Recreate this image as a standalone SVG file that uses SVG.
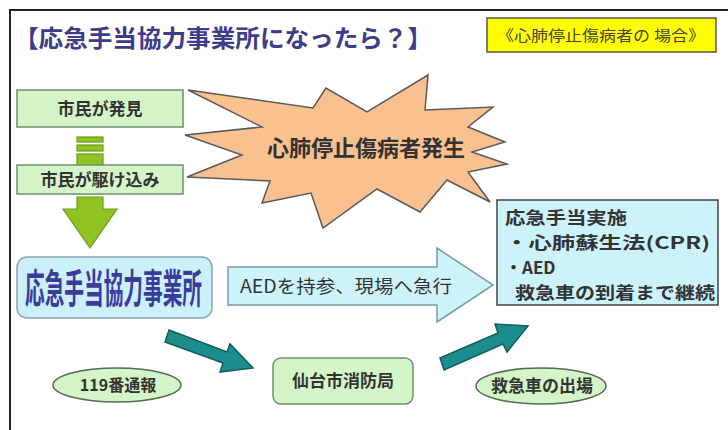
<svg xmlns="http://www.w3.org/2000/svg" width="728" height="430" viewBox="0 0 728 430">
<style>
  text { font-family: "Noto Sans CJK JP", "Noto Sans", sans-serif; }
  .lbl { font-weight: bold; fill: #333; }
  .greenbox { fill: #d3f5c8; stroke: #6e8f6e; stroke-width: 1.5; }
  .bluebox { fill: #ccf3fa; stroke: #7c9ca8; stroke-width: 1.5; }
  .teal { fill: #1b8d8d; stroke: #135e5e; stroke-width: 1.5; }
  .lime { fill: #8fc322; stroke: #6a9a1a; stroke-width: 1.2; }
</style>
<rect x="0" y="0" width="728" height="430" fill="#ffffff"/>
<rect x="10" y="10" width="740" height="440" fill="none" stroke="#222" stroke-width="2"/>

<g id="title">
  <text x="14" y="47" font-size="24" fill="#3c3c8a" font-weight="bold" textLength="418" lengthAdjust="spacingAndGlyphs">【応急手当協力事業所になったら？】</text>
</g>

<g id="case-label">
  <rect x="487" y="18" width="229" height="34" fill="#ffff00" stroke="#555" stroke-width="1.5"/>
  <text x="601" y="41" font-size="15" fill="#444" text-anchor="middle" textLength="208" lengthAdjust="spacingAndGlyphs">《心肺停止傷病者の 場合》</text>
</g>

<g id="connectors">
  <rect x="77" y="137" width="26" height="5" class="lime"/>
  <rect x="77" y="145" width="26" height="6" class="lime"/>
  <rect x="77" y="154" width="26" height="12" class="lime"/>
  <polygon class="lime" points="77,197 103,197 103,209 117,209 90,248 63,209 77,209"/>
  <g id="aed-arrow">
    <polygon points="228,267 437,267 437,248 493,285 437,322 437,305 228,305" fill="#ccf4fa" stroke="#7a9aa5" stroke-width="1.5"/>
    <text x="240" y="293" font-size="18" fill="#333" textLength="212" lengthAdjust="spacingAndGlyphs">AEDを持参、現場へ急行</text>
  </g>
  <polygon class="teal" points="169,330 227,352 230,344 253,368 220,372 223,363 165,342"/>
  <polygon class="teal" points="440,358 498,333 495,324 528,326 507,352 503,344 444,370"/>
</g>

<g id="citizen-find">
  <rect x="17" y="90" width="166" height="37" class="greenbox"/>
  <text x="100" y="115" font-size="17" class="lbl" text-anchor="middle">市民が発見</text>
</g>

<g id="citizen-rush">
  <rect x="17" y="165" width="166" height="29" class="greenbox"/>
  <text x="100" y="186" font-size="17" class="lbl" text-anchor="middle">市民が駆け込み</text>
</g>

<g id="arrest">
  <polygon points="188,90 313,108 326,88 367,112 428,75 425,110 493,107 468,127 505,142 472,152 507,164 468,172 490,202 447,180 420,212 377,189 323,228 311,193 262,203 270,181 187,177 242,155 185,135 262,127" fill="#f9c190" stroke="#5a5a5a" stroke-width="1.5"/>
  <text x="366" y="156" font-size="22" class="lbl" text-anchor="middle">心肺停止傷病者発生</text>
</g>

<g id="cooperating-business">
  <rect x="17" y="257" width="195" height="61" rx="10" fill="#ccf0fa" stroke="#8aa4b0" stroke-width="1.5"/>
  <text transform="translate(25,303) scale(1,2)" font-size="20" fill="#3b3b9c" font-weight="bold" textLength="177" lengthAdjust="spacingAndGlyphs">応急手当協力事業所</text>
</g>

<g id="first-aid">
  <rect x="497" y="200" width="221" height="105" class="bluebox" style="stroke:#444"/>
  <text x="505" y="224" font-size="17" class="lbl" textLength="122" lengthAdjust="spacingAndGlyphs">応急手当実施</text>
  <text x="505" y="249" font-size="17" class="lbl" textLength="205" lengthAdjust="spacingAndGlyphs">・心肺蘇生法(CPR)</text>
  <text x="505" y="274" font-size="17" class="lbl">・AED</text>
  <text x="515" y="299" font-size="17" class="lbl" textLength="200" lengthAdjust="spacingAndGlyphs">救急車の到着まで継続</text>
</g>

<g id="call-119">
  <ellipse cx="117" cy="385" rx="64" ry="17" class="greenbox" style="stroke:#556b55"/>
  <text x="118" y="391" font-size="16" class="lbl" text-anchor="middle">119番通報</text>
</g>

<g id="fire-dept">
  <rect x="273" y="358" width="140" height="46" rx="8" class="greenbox"/>
  <text x="343" y="387" font-size="17" class="lbl" text-anchor="middle">仙台市消防局</text>
</g>

<g id="ambulance">
  <ellipse cx="541" cy="386" rx="65" ry="18" class="greenbox" style="stroke:#556b55"/>
  <text x="542" y="392" font-size="17" class="lbl" text-anchor="middle">救急車の出場</text>
</g>
</svg>
